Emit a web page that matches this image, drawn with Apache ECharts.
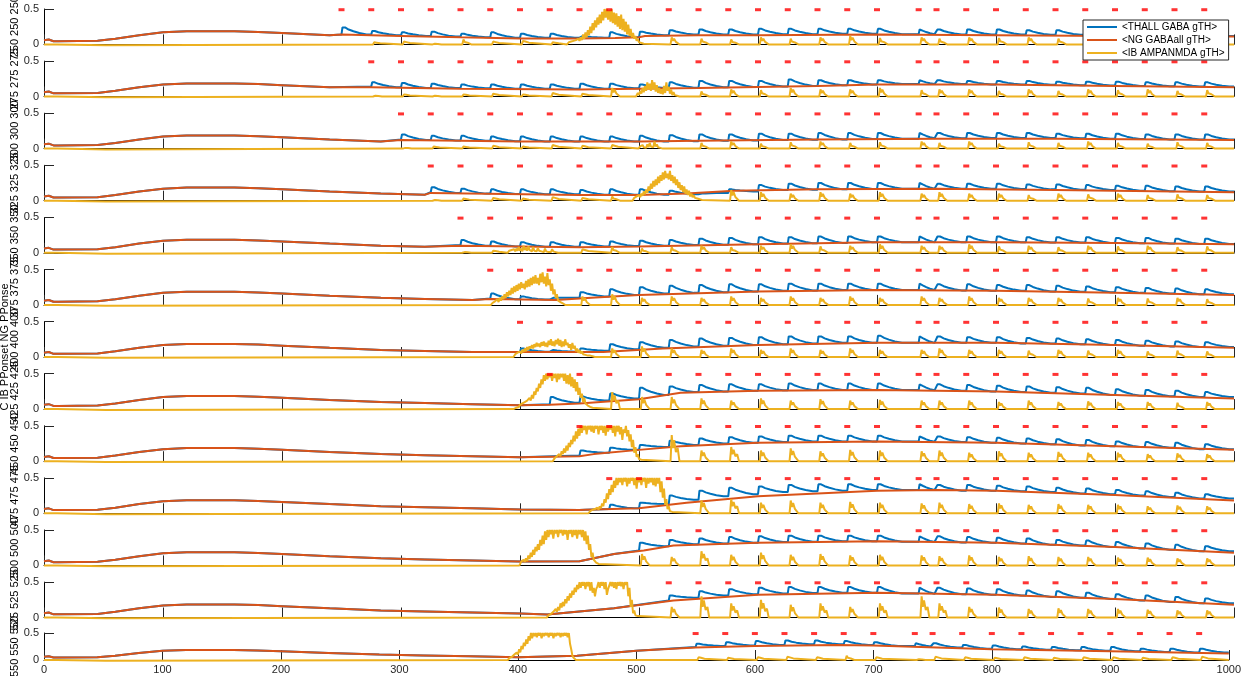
<!DOCTYPE html>
<html><head><meta charset="utf-8">
<script src="https://cdn.jsdelivr.net/npm/echarts@6/dist/echarts.min.js"></script>
<style>html,body{margin:0;padding:0;background:#fff}#c{width:1244px;height:676px}</style>
</head><body><div id="c"></div>
<script>
// ---------------- DATA ----------------
const xTicks = [0,100,200,300,400,500,600,700,800,900,1000];
const yTickLabels = ['0','0.5'];
const seriesNames = ['<THALL GABA gTH>','<NG GABAall gTH>','<IB AMPANMDA gTH>'];
const panelStarts = [250,275,300,325,350,375,400,425,450,475,500,525,550];
const sideLabels = ['250 250 250','275 275 275','300 300 300','325 325 325','350 350 350','375 375 375','400 400 400','425 425 425','450 450 450','475 475 475','500 500 500','525 525 525','550 550 550'];
const sideTitle = 'C IB PPonset NG PPonse';
const stimTimes = [250,275,300,325,350,375,400,425,450,475,500,525,550,575,600,625,650,675,700,735,750,775,800,825,850,875,900,925,950,975];
// shared pre-stimulus NG trajectory
const ngBaseline = [[0,0.06],[4,0.07],[8,0.045],[12,0.045],[45,0.05],[60,0.08],[80,0.13],[100,0.17],[120,0.185],[160,0.185],[180,0.175],[200,0.16],[240,0.13],[283,0.1],[320,0.085],[360,0.07],[400,0.055],[450,0.045],[500,0.04],[550,0.04]];
// NG GABAall per panel (from panel's own first knot onward)
const ng_250 = [[250,.14],[300,.12],[350,.1],[400,.085],[450,.085],[480,.09],[500,.1],[505,.12],[550,.13],[600,.13],[700,.14],[800,.13],[900,.12],[1000,.11]];
const ng_275 = [[275,.13],[350,.11],[450,.1],[500,.11],[550,.12],[650,.15],[700,.17],[800,.17],[900,.15],[1000,.13]];
const ng_300 = [[300,.12],[400,.1],[500,.1],[550,.11],[650,.13],[750,.14],[850,.14],[1000,.12]];
const ng_325 = [[325,.11],[450,.08],[500,.08],[540,.1],[580,.14],[650,.16],[750,.17],[850,.15],[1000,.12]];
const ng_350 = [[350,.1],[450,.08],[500,.09],[600,.12],[700,.15],[800,.15],[900,.14],[1000,.12]];
const ng_375 = [[375,.085],[430,.07],[460,.1],[500,.14],[600,.19],[700,.21],[800,.2],[900,.17],[1000,.14]];
const ng_400 = [[400,.07],[470,.07],[520,.12],[600,.17],[700,.2],[800,.2],[900,.17],[1000,.13]];
const ng_425 = [[425,.06],[450,.08],[500,.14],[535,.23],[600,.26],[700,.27],[800,.25],[900,.2],[1000,.15]];
const ng_450 = [[450,.07],[462,.1],[500,.16],[535,.21],[600,.26],[700,.28],[800,.26],[900,.21],[1000,.16]];
const ng_475 = [[455,.05],[500,.07],[540,.15],[600,.24],[700,.32],[750,.33],[800,.32],[900,.26],[1000,.18]];
const ng_500 = [[450,.06],[479,.16],[504,.21],[529,.28],[600,.32],[700,.34],[800,.32],[900,.26],[1000,.18]];
const ng_525 = [[423,.043],[479,.13],[529,.24],[600,.32],[700,.35],[800,.32],[900,.26],[1000,.18]];
const ng_550 = [[400,.05],[450,.08],[500,.17],[550,.23],[600,.26],[669,.28],[700,.27],[800,.2],[900,.16],[1000,.12]];
// THALL GABA: peak after each stimulus, and level just before each stimulus
const thPk_250 = [.24,.19,.17,.18,.15,.17,.15,.15,.12,.17,.18,.2,.21,.21,.22,.22,.22,.22,.22,.21,.21,.21,.21,.2,.2,.2,.2,.2,.2,.19];
const thLo_250 = [.14,.14,.13,.12,.11,.1,.095,.095,.095,.095,.1,.13,.14,.14,.14,.145,.145,.15,.15,.145,.145,.14,.14,.14,.135,.135,.13,.13,.125,.12];
const thPk_275 = [.2,.19,.18,.17,.17,.17,.17,.18,.18,.17,.2,.22,.22,.22,.24,.23,.23,.23,.23,.23,.22,.22,.22,.21,.21,.21,.2,.2,.2];
const thLo_275 = [.14,.13,.12,.12,.115,.11,.11,.11,.11,.115,.12,.125,.13,.135,.14,.15,.16,.17,.175,.175,.175,.17,.17,.165,.16,.155,.15,.145,.14];
const thPk_300 = [.2,.18,.18,.17,.17,.17,.17,.17,.18,.19,.2,.2,.21,.21,.22,.22,.22,.22,.22,.22,.22,.22,.21,.21,.21,.2,.2,.2];
const thLo_300 = [.13,.12,.115,.11,.105,.1,.1,.1,.1,.1,.105,.11,.115,.12,.125,.13,.135,.14,.145,.145,.15,.15,.15,.145,.14,.135,.13,.13];
const thPk_325 = [.19,.17,.16,.16,.16,.15,.16,.16,.14,.1,.16,.22,.24,.25,.25,.25,.25,.24,.24,.24,.23,.23,.22,.21,.21,.2,.2];
const thLo_325 = [.12,.11,.1,.095,.09,.09,.085,.085,.085,.09,.11,.13,.15,.155,.16,.165,.17,.17,.17,.17,.165,.16,.155,.15,.14,.135,.13];
const thPk_350 = [.18,.16,.15,.15,.15,.16,.17,.18,.2,.21,.22,.22,.23,.23,.23,.23,.23,.23,.23,.22,.22,.22,.21,.21,.2,.2];
const thLo_350 = [.11,.1,.09,.085,.085,.09,.095,.1,.11,.115,.12,.13,.135,.14,.15,.15,.15,.15,.15,.15,.145,.145,.14,.135,.13,.125];
const thPk_375 = [.16,.12,.1,.18,.22,.25,.27,.28,.29,.29,.3,.3,.3,.3,.3,.29,.29,.28,.28,.27,.26,.25,.24,.23,.22];
const thLo_375 = [.09,.08,.075,.1,.12,.14,.16,.17,.18,.19,.2,.205,.21,.21,.21,.21,.205,.2,.2,.19,.185,.18,.17,.16,.15];
const thPk_400 = [.12,.1,.12,.18,.21,.24,.26,.27,.28,.29,.29,.29,.3,.29,.29,.28,.28,.27,.26,.25,.24,.23,.22,.21];
const thLo_400 = [.075,.075,.075,.09,.11,.13,.15,.16,.17,.18,.19,.2,.2,.2,.2,.2,.2,.19,.19,.18,.17,.16,.15,.14];
const thPk_425 = [.17,.18,.22,.3,.32,.34,.35,.35,.36,.36,.36,.36,.35,.35,.34,.33,.32,.31,.3,.28,.27,.26,.24];
const thLo_425 = [.07,.09,.12,.15,.2,.24,.25,.26,.265,.27,.27,.27,.27,.265,.26,.25,.24,.23,.22,.2,.19,.18,.17];
const thPk_450 = [.15,.19,.23,.29,.32,.34,.35,.36,.36,.36,.36,.35,.35,.34,.33,.32,.31,.3,.28,.27,.26,.24];
const thLo_450 = [.08,.12,.16,.2,.23,.25,.26,.27,.28,.28,.28,.28,.275,.27,.26,.25,.24,.22,.21,.2,.19,.17];
const thPk_475 = [.12,.15,.25,.32,.36,.38,.4,.41,.41,.41,.41,.4,.4,.39,.38,.36,.35,.33,.31,.29,.27];
const thLo_475 = [.06,.07,.13,.19,.24,.27,.3,.31,.32,.33,.33,.33,.32,.32,.31,.3,.28,.27,.25,.23,.21];
const thPk_500 = [.32,.36,.38,.4,.41,.42,.42,.42,.42,.41,.41,.4,.39,.38,.36,.35,.33,.31,.29,.27];
const thLo_500 = [.21,.27,.3,.31,.32,.33,.335,.34,.34,.335,.33,.325,.32,.31,.29,.28,.26,.24,.22,.2];
const thPk_525 = [.31,.37,.4,.42,.43,.43,.43,.43,.42,.42,.41,.4,.38,.37,.35,.33,.31,.29,.27];
const thLo_525 = [.24,.28,.31,.33,.34,.345,.35,.35,.34,.335,.33,.32,.31,.29,.28,.26,.24,.22,.2];
const thPk_550 = [.3,.33,.35,.36,.36,.35,.33,.31,.31,.28,.27,.25,.24,.24,.24,.21,.21,.21];
const thLo_550 = [.24,.26,.27,.28,.29,.29,.28,.26,.25,.23,.21,.2,.19,.18,.17,.16,.15,.14];
// IB AMPANMDA: spike height after each stimulus
const ibSp_250 = [0,.03,.04,.02,.07,.04,.05,.03,0,0,0,.1,.08,.07,.1,.08,.1,.12,.09,.1,.08,.1,.09,.1,.08,.1,.09,.08,.1,.08];
const ibSp_275 = [.02,.03,.02,.03,.04,.03,.05,.04,.12,0,0,.07,.1,.09,.12,.1,.1,.12,.09,.1,.1,.08,.1,.08,.1,.09,.1,.08,.09];
const ibSp_300 = [.02,.03,.03,.04,.03,.05,.04,.05,.06,0,.08,.1,.07,.09,.1,.08,.09,.1,.08,.1,.07,.09,.08,.1,.08,.07,.09,.08];
const ibSp_325 = [.02,.03,.04,.03,.05,.04,.06,0,0,.08,.15,.12,.1,.12,.1,.12,.1,.12,.1,.1,.08,.1,.09,.1,.08,.09,.08];
const ibSp_350 = [.02,.03,0,0,.05,.08,.06,.08,.1,.08,.1,.12,.09,.1,.12,.1,.1,.12,.09,.1,.08,.1,.09,.1,.08,.09];
const ibSp_375 = [0,0,0,.12,.15,.1,.12,.1,.12,.1,.12,.1,.12,.1,.12,.1,.12,.1,.1,.1,.09,.1,.09,.1,.08];
const ibSp_400 = [0,0,0,.12,.15,.12,.1,.12,.1,.12,.1,.12,.1,.1,.12,.1,.1,.09,.1,.09,.1,.08,.09,.08];
const ibSp_425 = [0,0,.24,.17,.17,.15,.12,.15,.12,.14,.12,.13,.12,.12,.12,.1,.12,.1,.11,.1,.1,.09,.1];
const ibSp_450 = [0,0,0,.37,.15,.2,.15,.18,.14,.16,.15,.14,.15,.12,.14,.12,.13,.12,.12,.1,.11,.1];
const ibSp_475 = [0,0,.3,.18,.2,.15,.18,.15,.16,.15,.14,.15,.13,.14,.12,.13,.12,.12,.1,.11,.1];
const ibSp_500 = [.16,.12,.2,.15,.18,.15,.16,.14,.15,.14,.13,.14,.12,.13,.12,.12,.11,.11,.1,.1];
const ibSp_525 = [.15,.3,.2,.25,.18,.2,.15,.2,.3,.2,.15,.14,.12,.13,.12,.12,.11,.1,.1];
const ibSp_550 = [.05,.04,.05,.06,.05,.08,.05,.03,.06,.05,.04,.05,.04,.05,.05,.04,.05,.06];
// IB AMPANMDA bursts: first time, then one value per time unit
const ibBurstStart = [440,498,500,495,390,376,395,395,428,458,400,423,392];
const ibBurst_250 = [.01,.03,.01,.04,.02,.05,.03,.06,.04,.08,.05,.1,.06,.14,.08,.17,.1,.2,.13,.25,.16,.3,.2,.34,.24,.38,.28,.42,.3,.46,.34,.5,.38,.5,.35,.48,.32,.5,.3,.45,.28,.44,.25,.4,.22,.42,.2,.36,.18,.32,.14,.28,.12,.22,.1,.16,.08,.12,.05,.08,.03,.05,.02,.03,.01,0];
const ibBurst_275 = [.02,.05,.02,.08,.04,.12,.06,.15,.08,.2,.1,.18,.08,.23,.1,.2,.07,.16,.05,.12,.04,.1,.03,.15,.05,.2,.08,.14,.04,.1,.02,.06,.02,.04,.01,.02,0];
const ibBurst_300 = [.01,.03,.01,.05,.02,.04,.01,.06,.02,.08,.03,.05,.02,.1,.03,.06,.02,.04,.01,.03,0];
const ibBurst_325 = [.02,.04,.03,.06,.04,.08,.05,.1,.07,.13,.09,.16,.11,.2,.14,.24,.17,.28,.2,.3,.22,.34,.25,.36,.28,.4,.3,.42,.32,.38,.3,.42,.28,.36,.25,.34,.22,.3,.18,.26,.15,.22,.12,.2,.1,.16,.08,.14,.06,.1,.05,.08,.04,.06,.03,.05,.02,.03,.01,0];
const ibBurst_350 = [.01,.03,.01,.04,.02,.05,.02,.06,.03,.08,.03,.06,.02,.1,.04,.07,.03,.09,.04,.06,.02,.08,.03,.05,.02,.07,.03,.05,.02,.04,.01,.06,.02,.04,.01,.03,.01,.05,.02,.03,.01,.02,0];
const ibBurst_375 = [.01,.03,.02,.05,.03,.08,.04,.1,.06,.12,.08,.15,.1,.18,.12,.2,.14,.24,.16,.26,.18,.28,.2,.3,.22,.32,.24,.3,.22,.34,.25,.36,.26,.38,.28,.4,.3,.42,.3,.38,.28,.44,.32,.46,.3,.4,.26,.45,.28,.36,.2,.3,.15,.22,.1,.15,.06,.08,.04,.05,.02,.02,0];
const ibBurst_400 = [.02,.04,.03,.06,.04,.08,.05,.1,.07,.12,.08,.14,.1,.15,.12,.17,.12,.18,.14,.2,.15,.19,.14,.21,.16,.22,.15,.2,.14,.23,.17,.25,.16,.22,.15,.24,.18,.26,.16,.24,.14,.22,.15,.25,.17,.2,.13,.18,.1,.2,.12,.16,.08,.12,.06,.1,.05,.08,.04,.06,.03,.05,.02,.04,.02,.03,.01,.02,0];
const ibBurst_425 = [.01,.02,.02,.04,.03,.06,.05,.08,.06,.1,.08,.12,.1,.16,.12,.2,.15,.25,.2,.3,.25,.36,.3,.42,.35,.48,.4,.5,.42,.5,.45,.5,.4,.5,.44,.5,.38,.5,.42,.5,.45,.5,.4,.5,.36,.48,.35,.5,.32,.45,.3,.42,.25,.38,.2,.3,.16,.22,.1,.16,.08,.1,.05,.06,.03,.04,.02,0];
const ibBurst_450 = [.02,.04,.03,.07,.05,.1,.07,.14,.1,.18,.12,.22,.15,.26,.2,.3,.24,.36,.28,.42,.32,.46,.36,.5,.4,.5,.44,.5,.38,.5,.45,.5,.42,.5,.4,.5,.46,.5,.38,.5,.44,.5,.4,.5,.36,.5,.42,.5,.45,.5,.4,.5,.35,.5,.42,.5,.38,.48,.3,.45,.4,.5,.35,.44,.28,.38,.2,.3,.12,.2,.06,.1,.03,.05,.02,0];
const ibBurst_475 = [.02,.03,.02,.05,.03,.06,.04,.08,.05,.1,.07,.14,.1,.2,.15,.28,.2,.34,.26,.4,.3,.46,.36,.5,.4,.5,.44,.5,.4,.5,.45,.5,.38,.5,.42,.5,.46,.5,.4,.5,.35,.5,.44,.5,.4,.5,.45,.5,.36,.5,.42,.5,.44,.5,.4,.5,.38,.5,.42,.5,.3,.45,.22,.35,.12,.2,.06,.1,.03,.04,.02,0];
const ibBurst_500 = [.02,.05,.03,.08,.05,.1,.06,.14,.09,.18,.12,.22,.15,.26,.2,.3,.22,.36,.28,.42,.3,.48,.36,.5,.4,.5,.44,.5,.38,.5,.45,.5,.4,.5,.46,.5,.42,.5,.44,.5,.36,.5,.45,.5,.4,.5,.43,.5,.38,.5,.44,.5,.4,.5,.35,.48,.3,.42,.22,.3,.12,.18,.08,.1,.04,.05,.02,0];
const ibBurst_525 = [.02,.03,.02,.05,.04,.08,.06,.12,.08,.15,.1,.2,.14,.22,.16,.26,.2,.3,.24,.34,.28,.38,.32,.42,.36,.46,.4,.5,.42,.5,.45,.5,.4,.5,.44,.5,.38,.5,.35,.42,.3,.4,.44,.5,.42,.5,.45,.5,.4,.5,.32,.4,.38,.5,.44,.5,.42,.5,.4,.5,.45,.5,.44,.5,.4,.5,.46,.5,.3,.42,.15,.25,.06,.1,.03,.04,.02,0];
const ibBurst_550 = [.02,.04,.03,.06,.05,.1,.07,.14,.1,.2,.14,.26,.2,.32,.26,.38,.3,.44,.36,.5,.4,.5,.44,.5,.42,.5,.45,.5,.4,.5,.44,.5,.46,.5,.42,.5,.45,.5,.4,.5,.44,.5,.46,.5,.42,.5,.44,.5,.45,.5,.42,.5,.3,.2,.08,.04,.02,0];
const ibEarly = [[0,0],[11,0],[11,-0.012],[52,-0.012],[52,0]];

// ---------------- BUILD ----------------
const NG = {250:ng_250,275:ng_275,300:ng_300,325:ng_325,350:ng_350,375:ng_375,400:ng_400,425:ng_425,450:ng_450,475:ng_475,500:ng_500,525:ng_525,550:ng_550};
const PK = {250:thPk_250,275:thPk_275,300:thPk_300,325:thPk_325,350:thPk_350,375:thPk_375,400:thPk_400,425:thPk_425,450:thPk_450,475:thPk_475,500:thPk_500,525:thPk_525,550:thPk_550};
const LO = {250:thLo_250,275:thLo_275,300:thLo_300,325:thLo_325,350:thLo_350,375:thLo_375,400:thLo_400,425:thLo_425,450:thLo_450,475:thLo_475,500:thLo_500,525:thLo_525,550:thLo_550};
const SP = {250:ibSp_250,275:ibSp_275,300:ibSp_300,325:ibSp_325,350:ibSp_350,375:ibSp_375,400:ibSp_400,425:ibSp_425,450:ibSp_450,475:ibSp_475,500:ibSp_500,525:ibSp_525,550:ibSp_550};
const BU = {250:ibBurst_250,275:ibBurst_275,300:ibBurst_300,325:ibBurst_325,350:ibBurst_350,375:ibBurst_375,400:ibBurst_400,425:ibBurst_425,450:ibBurst_450,475:ibBurst_475,500:ibBurst_500,525:ibBurst_525,550:ibBurst_550};

const C_BLUE='#0072BD', C_ORANGE='#D95319', C_YELLOW='#EDB120', C_RED='#FF0000', AX='#262626';
const FONT='Liberation Sans, Arial, sans-serif';

function ngData(v){
  const own = NG[v];
  return ngBaseline.filter(p=>p[0]<own[0][0]).concat(own);
}
function thallData(v){
  const st = stimTimes.filter(s=>s>=v), pk=PK[v], lo=LO[v];
  const pts = ngData(v).filter(p=>p[0]<st[0]);
  for(let j=0;j<st.length;j++){
    const s=st[j], p=pk[j], l=lo[j];
    const ln = j+1<lo.length ? lo[j+1] : lo[j];
    const gap = j+1<st.length ? st[j+1]-s : 25;
    const k = Math.min(1, (gap-1)/22);
    const d = p-ln;
    pts.push([s,l],[s+0.8,p],[s+3*k,p],[s+6*k,p-0.3*d],[s+10*k,p-0.55*d],[s+15*k,p-0.8*d],[s+21*k,ln]);
  }
  pts.push([1000, lo[lo.length-1]]);
  return pts;
}
function ibData(v,i){
  const st = stimTimes.filter(s=>s>=v), sp=SP[v], bv=BU[v], b0=ibBurstStart[i];
  const b1 = b0 + bv.length - 1;
  const ev = [];
  ev.push([[b0-0.5,0]].concat(bv.map((y,k)=>[b0+k,y])));
  st.forEach((s,j)=>{
    const h=sp[j];
    if(h>0 && !(s+9>=b0 && s<=b1)){
      ev.push([[s+1.5,0],[s+2.5,h],[s+3.5,h*0.5],[s+4.5,h*0.8],[s+6,h*0.35],[s+7.5,h*0.5],[s+9,0]]);
    }
  });
  ev.sort((a,b)=>a[0][0]-b[0][0]);
  let pts = ibEarly.slice();
  ev.forEach(e=>{pts=pts.concat(e);});
  pts.push([1000,0]);
  return pts;
}

const N = panelStarts.length;
const tops=[], heights=[];
for(let i=0;i<N;i++){
  if(i<N-1){tops.push(9+52.1*i);heights.push(35.4);}
  else {tops.push(633);heights.push(27);}
}
const grid=[], xAxis=[], yAxis=[], series=[], graphic=[];
panelStarts.forEach((v,i)=>{
  const last = i===N-1;
  grid.push({left:44,right:10,top:tops[i],height:heights[i]});
  xAxis.push({type:'value',gridIndex:i,min:xTicks[0],max:xTicks[xTicks.length-1],interval:xTicks[1]-xTicks[0],
    axisLine:{show:true,onZero:false,lineStyle:{color:'#000',width:1}},
    axisTick:{show:true,inside:true,length:10,lineStyle:{color:AX,width:1}},
    axisLabel:{show:last,color:AX,fontSize:11,margin:4,fontFamily:FONT,formatter:(val)=>String(val)},
    splitLine:{show:false}});
  yAxis.push({type:'value',gridIndex:i,min:0,max:0.5,interval:0.5,
    axisLine:{show:true,lineStyle:{color:'#000',width:1}},
    axisTick:{show:true,inside:true,length:10,lineStyle:{color:AX,width:1}},
    axisLabel:{show:true,color:AX,fontSize:11,margin:5,fontFamily:FONT,
      formatter:(val)=> val===0?yTickLabels[0]:yTickLabels[1]},
    splitLine:{show:false}});
  const common={type:'line',xAxisIndex:i,yAxisIndex:i,symbol:'none',showSymbol:false,clip:false,animation:false};
  series.push(Object.assign({},common,{name:seriesNames[0],data:thallData(v),lineStyle:{color:C_BLUE,width:2},itemStyle:{color:C_BLUE},z:2}));
  series.push(Object.assign({},common,{name:seriesNames[1],data:ngData(v),lineStyle:{color:C_ORANGE,width:2},itemStyle:{color:C_ORANGE},z:3}));
  series.push(Object.assign({},common,{name:seriesNames[2],data:ibData(v,i),lineStyle:{color:C_YELLOW,width:2},itemStyle:{color:C_YELLOW},z:4}));
  series.push({type:'scatter',name:'stim'+v,xAxisIndex:i,yAxisIndex:i,symbol:'rect',symbolSize:[6,3],
    itemStyle:{color:C_RED},data:stimTimes.filter(s=>s>=v).map(s=>[s,0.49]),clip:false,animation:false,z:5,silent:true});
  graphic.push({type:'text',x:15,y:tops[i]+heights[i]/2,rotation:Math.PI/2,
    style:{text:sideLabels[i],fill:'#000',font:'11px "Liberation Sans", Arial, sans-serif',textAlign:'center',textVerticalAlign:'middle'}});
});
graphic.push({type:'text',x:5,y:347,rotation:Math.PI/2,
  style:{text:sideTitle,fill:'#000',font:'11px "Liberation Sans", Arial, sans-serif',textAlign:'center',textVerticalAlign:'middle'}});

const chart = echarts.init(document.getElementById('c'),null,{renderer:'canvas'});
chart.setOption({
  animation:false,
  backgroundColor:'#fff',
  grid, xAxis, yAxis, series, graphic,
  legend:{data:seriesNames,orient:'vertical',left:1083,top:20,z:20,
    backgroundColor:'#fff',borderColor:'#262626',borderWidth:1,padding:[1,4,1,4],itemGap:1,
    itemWidth:30,itemHeight:2,icon:'rect',itemTextGap:5,selectedMode:false,
    textStyle:{fontSize:10,color:'#000',lineHeight:12,fontFamily:FONT}}
});
</script></body></html>
